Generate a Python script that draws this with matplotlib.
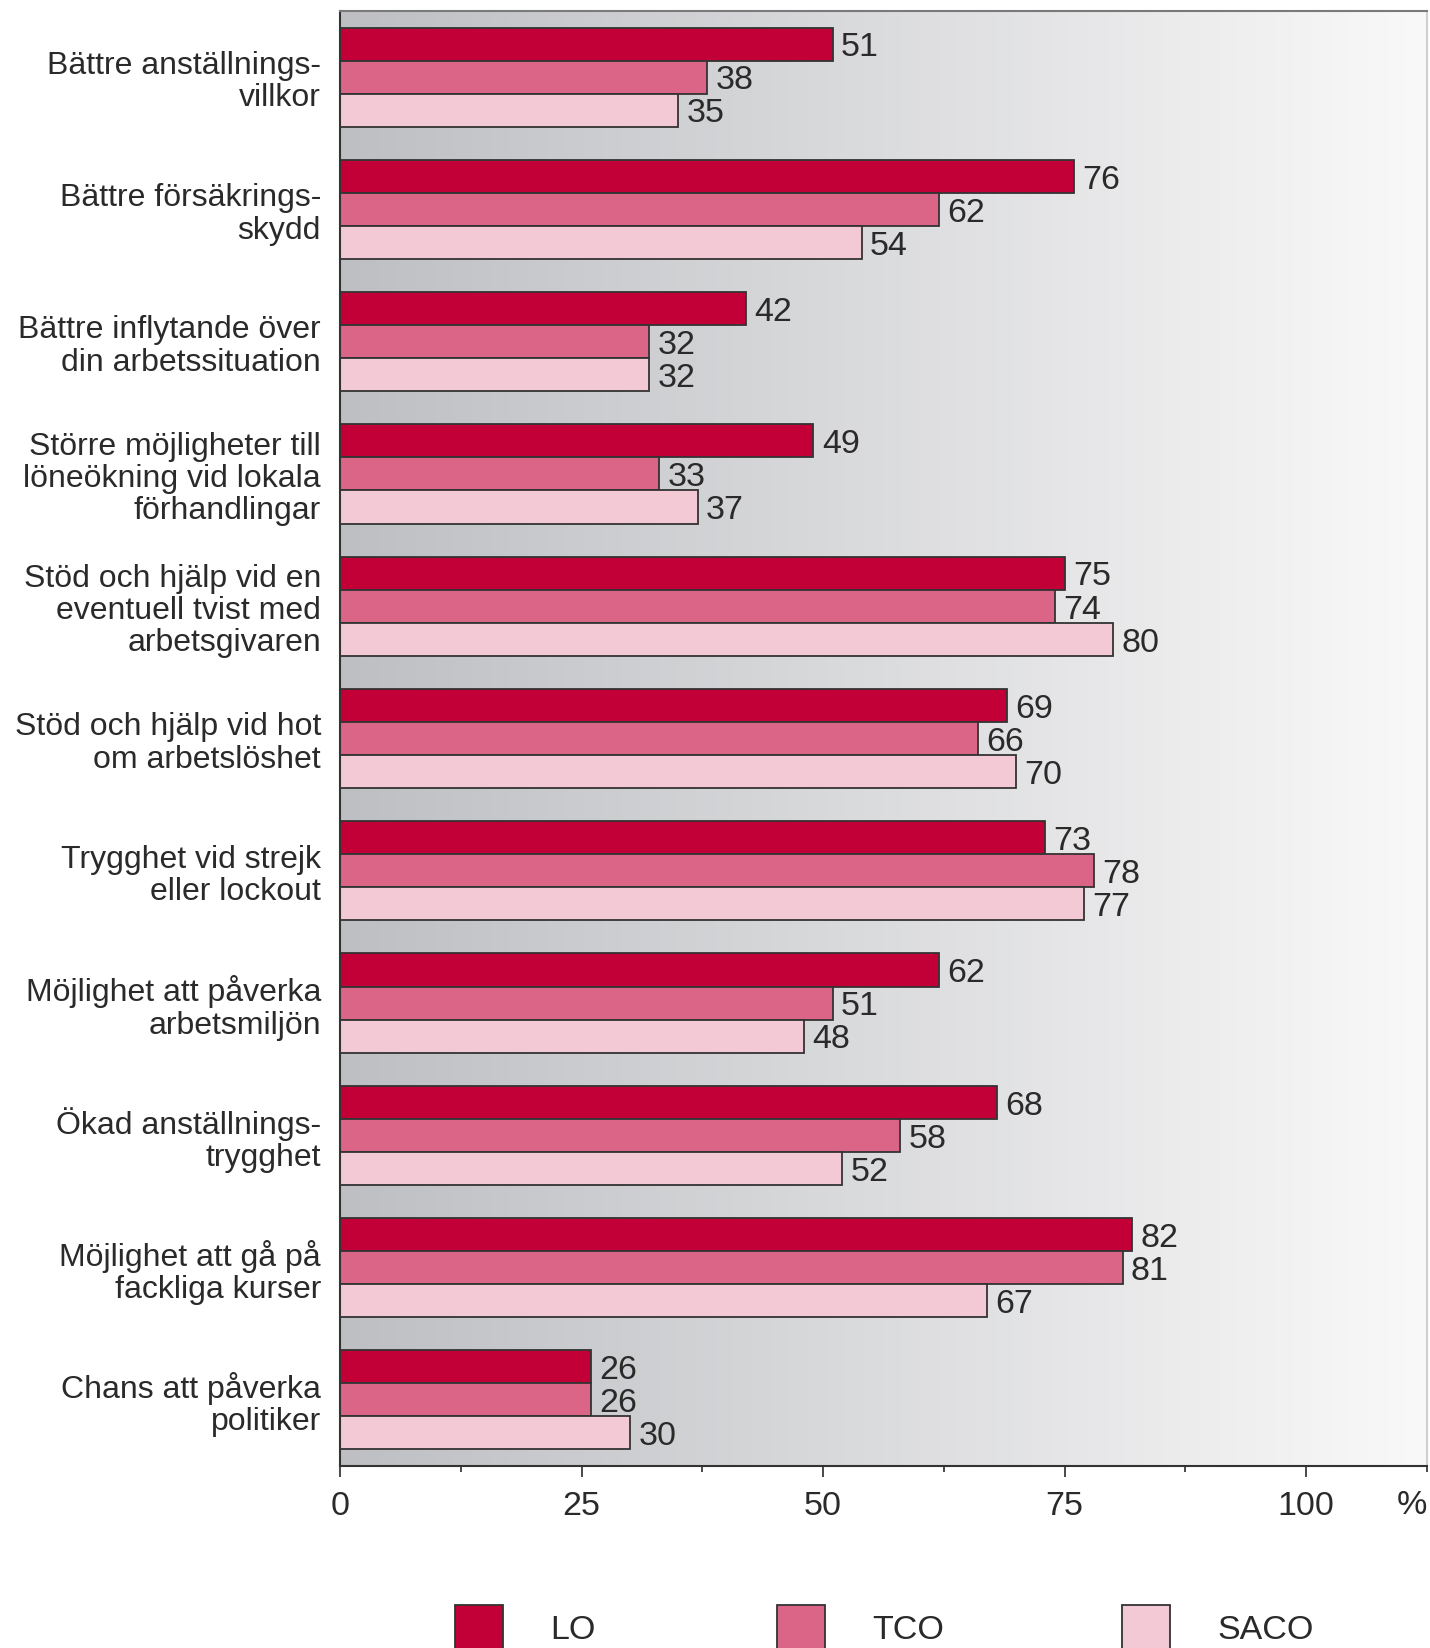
import matplotlib
matplotlib.use("Agg")
import matplotlib.pyplot as plt
import numpy as np
from matplotlib.patches import Rectangle
from matplotlib.ticker import FixedLocator

plt.rcParams['font.family'] = ['Liberation Sans', 'DejaVu Sans']

categories = [
    "Bättre anställnings-\nvillkor",
    "Bättre försäkrings-\nskydd",
    "Bättre inflytande över\ndin arbetssituation",
    "Större möjligheter till\nlöneökning vid lokala\nförhandlingar",
    "Stöd och hjälp vid en\neventuell tvist med\narbetsgivaren",
    "Stöd och hjälp vid hot\nom arbetslöshet",
    "Trygghet vid strejk\neller lockout",
    "Möjlighet att påverka\narbetsmiljön",
    "Ökad anställnings-\ntrygghet",
    "Möjlighet att gå på\nfackliga kurser",
    "Chans att påverka\npolitiker",
]
series_names = ["LO", "TCO", "SACO"]
lo = [51, 76, 42, 49, 75, 69, 73, 62, 68, 82, 26]
tco = [38, 62, 32, 33, 74, 66, 78, 51, 58, 81, 26]
saco = [35, 54, 32, 37, 80, 70, 77, 48, 52, 67, 30]
tick_values = [0, 25, 50, 75, 100]
tick_labels = ["0", "25", "50", "75", "100"]

colors = ["#c20037", "#da6587", "#f4c9d6"]
edge = "#333333"
txt = "#2a2a2a"
fs = 23
fs_num = 24.5

W, H = 1430, 1649
fig = plt.figure(figsize=(W / 100, H / 100), dpi=100)
ax = fig.add_axes([340 / W, 1 - 1467 / H, 1087 / W, 1455 / H])

xmax = 112.5
n = len(categories)
ax.set_xlim(0, xmax)
ax.set_ylim(n - 0.5, -0.5)

# gradient background
grad = np.linspace(0, 1, 256)[None, :]
c0 = np.array([190, 191, 195]) / 255
c1 = np.array([249, 249, 249]) / 255
img = c0[None, None, :] * (1 - grad[..., None]) + c1[None, None, :] * grad[..., None]
ax.imshow(img, extent=[0, xmax, n - 0.5, -0.5], aspect='auto', zorder=0, interpolation='bilinear')

h = 0.25
y = np.arange(n)
for k, vals in enumerate([lo, tco, saco]):
    yy = y + (k - 1) * h
    ax.barh(yy, vals, height=h, color=colors[k], edgecolor=edge, linewidth=1.3, zorder=2)
    for yi, v in zip(yy, vals):
        ax.annotate(str(v), (v, yi), xytext=(6, -2), textcoords='offset points',
                    ha='left', va='center', fontsize=fs_num, color=txt, zorder=3)

ax.set_yticks([])
for yi, lab in zip(y, categories):
    ax.text(-0.0175, yi + 0.03, lab, transform=ax.get_yaxis_transform(), ha='right', va='center',
            fontsize=fs, color=txt, linespacing=1.1)

ax.xaxis.set_major_locator(FixedLocator(tick_values))
ax.set_xticklabels(tick_labels)
ax.xaxis.set_minor_locator(FixedLocator([12.5, 37.5, 62.5, 87.5, 112.5]))
ax.tick_params(axis='x', which='major', length=8, width=1.2, direction='out',
               labelsize=fs_num, pad=9, colors=txt)
ax.tick_params(axis='x', which='minor', length=4, width=1.2, direction='out', colors=txt)
ax.text(xmax, -0.0158, "%", transform=ax.get_xaxis_transform(), ha='right', va='top',
        fontsize=fs_num, color=txt)

ax.spines['left'].set_color('#333333')
ax.spines['bottom'].set_color('#333333')
ax.spines['top'].set_color('#7a7a7a')
ax.spines['right'].set_color('#cfcfcf')
for s in ax.spines.values():
    s.set_linewidth(1.5)

# legend (cut off at the bottom like the reference)
leg_x = [455, 777, 1122]
for xp, name, c in zip(leg_x, series_names, colors):
    fig.patches.append(Rectangle((xp / W, -0.02), 48 / W, (1649 - 1606) / H + 0.02,
                                 transform=fig.transFigure, facecolor=c, edgecolor=edge,
                                 linewidth=1.3))
    fig.text((xp + 95) / W, 1 - 1631 / H, name, ha='left', va='center',
             fontsize=fs_num, color=txt)

fig.savefig("out.png", dpi=100)
